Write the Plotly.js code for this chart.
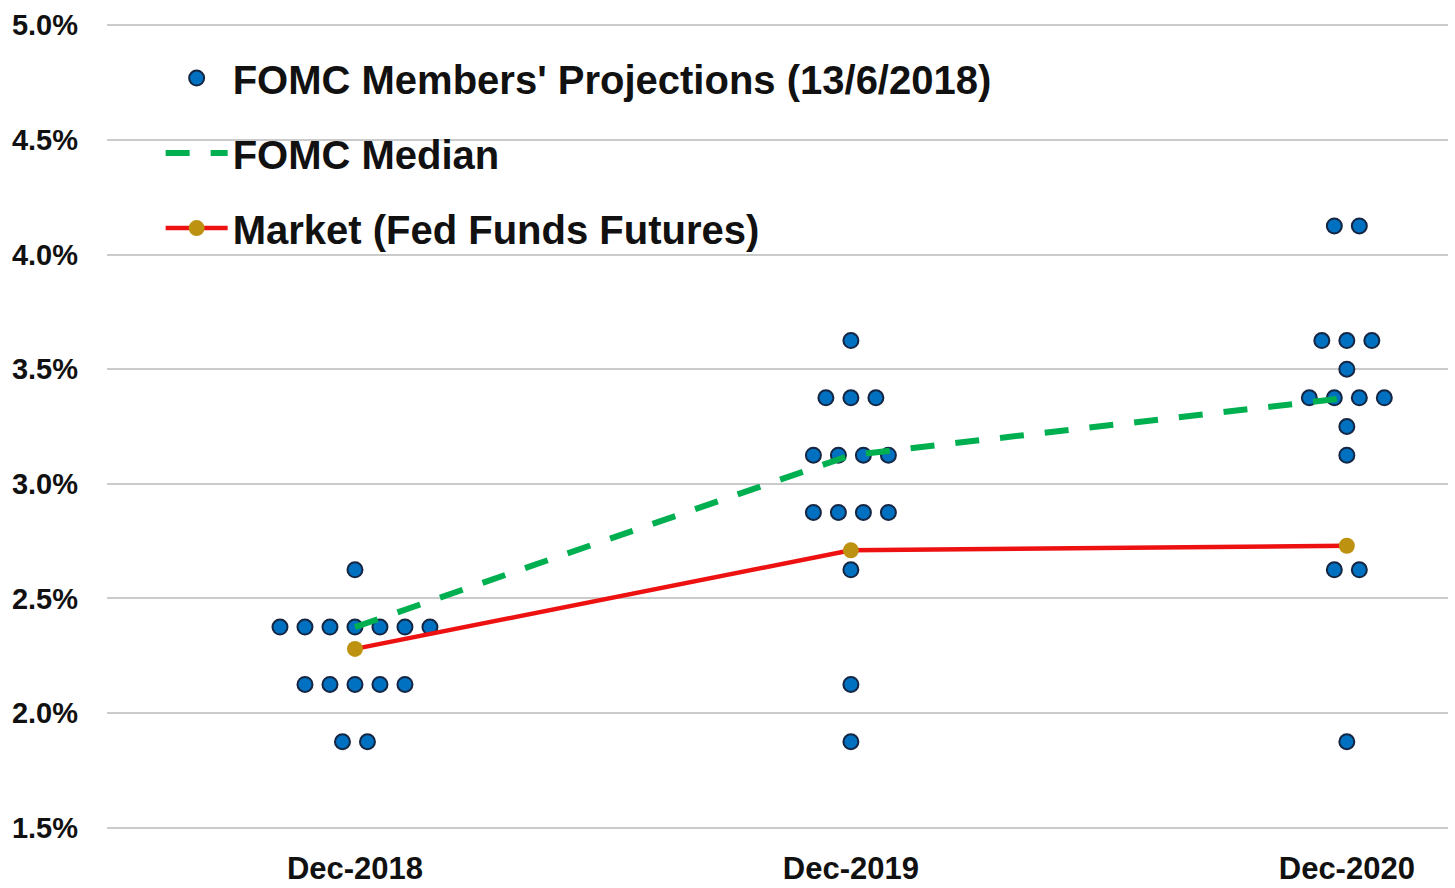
<!DOCTYPE html>
<html>
<head>
<meta charset="utf-8">
<script src="https://cdn.plot.ly/plotly-3.0.1.min.js"></script>
<style>html,body{margin:0;padding:0;background:#fff;}#chart{width:1455px;height:888px;}</style>
</head>
<body>
<div id="chart"></div>
<script>
// ---- Data ----
const categories = ['Dec-2018', 'Dec-2019', 'Dec-2020'];

// FOMC members' projections: rate levels and number of dots at each level
const projRates2018 = [2.625, 2.375, 2.125, 1.875];
const projCounts2018 = [1, 7, 5, 2];
const projRates2019 = [3.625, 3.375, 3.125, 2.875, 2.625, 2.125, 1.875];
const projCounts2019 = [1, 3, 4, 4, 1, 1, 1];
const projRates2020 = [4.125, 3.625, 3.5, 3.375, 3.25, 3.125, 2.625, 1.875];
const projCounts2020 = [2, 3, 1, 4, 1, 1, 2, 1];

const medianValues = [2.375, 3.125, 3.375];
const marketValues = [2.28, 2.71, 2.73];

const yTickVals = [1.5, 2.0, 2.5, 3.0, 3.5, 4.0, 4.5, 5.0];
const yTickText = ['1.5%', '2.0%', '2.5%', '3.0%', '3.5%', '4.0%', '4.5%', '5.0%'];

// ---- Build dot-plot positions (centered rows at each level) ----
const dotStep = 0.0504;
const dotX = [], dotY = [];
[[projRates2018, projCounts2018], [projRates2019, projCounts2019], [projRates2020, projCounts2020]]
  .forEach(function (pair, c) {
    const rates = pair[0], counts = pair[1];
    rates.forEach(function (r, k) {
      const n = counts[k];
      for (let i = 0; i < n; i++) {
        dotX.push(c + (i - (n - 1) / 2) * dotStep);
        dotY.push(r);
      }
    });
  });
const catIdx = categories.map(function (_, i) { return i; });

const FONT = '"Liberation Sans Narrow", "Arial Narrow", "Liberation Sans", Arial, sans-serif';

const traces = [
  {
    type: 'scatter', mode: 'markers', name: "FOMC Members' Projections (13/6/2018)",
    x: dotX, y: dotY, legendgroup: 'a',
    marker: { size: 15, color: '#0070C0', line: { color: '#152643', width: 2 } },
    hoverinfo: 'y'
  },
  {
    type: 'scatter', mode: 'lines', name: 'FOMC Median',
    x: catIdx, y: medianValues, legendgroup: 'b',
    line: { color: '#00B050', width: 6, dash: '24px,21px' }
  },
  {
    type: 'scatter', mode: 'lines+markers', name: 'Market (Fed Funds Futures)',
    x: catIdx, y: marketValues, legendgroup: 'c',
    line: { color: '#EE1111', width: 4.5 },
    marker: { size: 16, color: '#BE9211' }
  }
];

const layout = {
  width: 1455, height: 888,
  margin: { l: 107, r: 7, t: 23, b: 58 },
  paper_bgcolor: '#ffffff', plot_bgcolor: '#ffffff',
  font: { family: FONT, color: '#111111' },
  showlegend: true,
  legend: {
    x: 0.04, y: 0.972, xanchor: 'left', yanchor: 'top',
    bgcolor: 'rgba(0,0,0,0)',
    font: { family: FONT, size: 40, color: '#111111', weight: 'bold' },
    itemwidth: 62, tracegroupgap: 20, traceorder: 'grouped'
  },
  xaxis: {
    range: [-0.5, 2.204],
    tickvals: catIdx, ticktext: categories,
    showgrid: false, zeroline: false, showline: false,
    ticks: '', ticklabelstandoff: 17,
    tickfont: { family: FONT, size: 31, color: '#111111', weight: 'bold' }
  },
  yaxis: {
    range: [1.49, 5.01],
    tickvals: yTickVals, ticktext: yTickText,
    showgrid: true, gridcolor: '#CBCBCB', gridwidth: 2,
    zeroline: false, showline: false, ticks: '', ticklabelstandoff: 28,
    tickfont: { family: FONT, size: 29, color: '#111111', weight: 'bold' }
  }
};

Plotly.newPlot('chart', traces, layout, { displayModeBar: false, staticPlot: true });
</script>
</body>
</html>
